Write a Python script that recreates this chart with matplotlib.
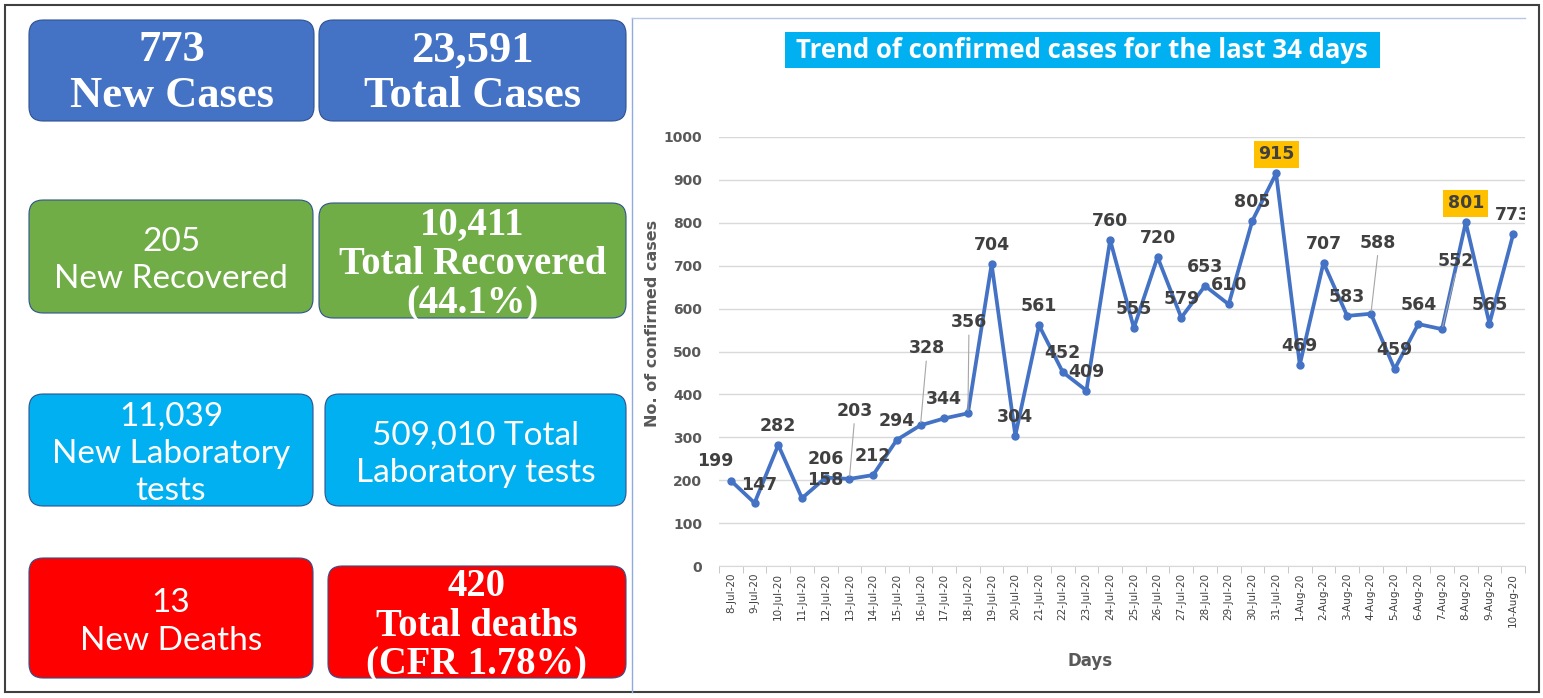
import matplotlib.pyplot as plt
from matplotlib.patches import FancyBboxPatch, Rectangle

# -----------------------------
# Data
# -----------------------------

days = ["8-Jul-20", "9-Jul-20", "10-Jul-20", "11-Jul-20", "12-Jul-20", "13-Jul-20",
        "14-Jul-20", "15-Jul-20", "16-Jul-20", "17-Jul-20", "18-Jul-20", "19-Jul-20",
        "20-Jul-20", "21-Jul-20", "22-Jul-20", "23-Jul-20", "24-Jul-20", "25-Jul-20",
        "26-Jul-20", "27-Jul-20", "28-Jul-20", "29-Jul-20", "30-Jul-20", "31-Jul-20",
        "1-Aug-20", "2-Aug-20", "3-Aug-20", "4-Aug-20", "5-Aug-20", "6-Aug-20",
        "7-Aug-20", "8-Aug-20", "9-Aug-20", "10-Aug-20"]
cases = [199, 147, 282, 158, 206, 203, 212, 294, 328, 344, 356, 704, 304, 561, 452,
         409, 760, 555, 720, 579, 653, 610, 805, 915, 469, 707, 583, 588, 459, 564,
         552, 801, 565, 773]
highlight = ["31-Jul-20", "8-Aug-20"]

box_texts = ["773\nNew Cases", "23,591\nTotal Cases",
             "205\nNew Recovered", "10,411\nTotal Recovered\n(44.1%)",
             "11,039\nNew Laboratory\ntests", "509,010 Total\nLaboratory tests",
             "13\nNew Deaths", "420\nTotal deaths\n(CFR 1.78%)"]

# -----------------------------
# Figure + pixel background layer
# -----------------------------

fig = plt.figure(figsize=(15.43, 6.98), dpi=100)
bg = fig.add_axes([0, 0, 1, 1])
bg.set_xlim(0, 1543)
bg.set_ylim(698, 0)
bg.axis("off")

bg.add_patch(Rectangle((5, 5), 1534, 687, fill=False, ec="#404040", lw=1.5))
bg.plot([632, 632], [18, 692], color="#8FAADC", lw=1)
bg.plot([632, 1525], [18, 18], color="#B4C7E7", lw=1)

# summary boxes: (x, y, w, h, colour, serif?)
boxes = [
    (29, 20, 285, 101, "#4472C4", True),
    (319, 20, 307, 101, "#4472C4", True),
    (29, 200, 284, 113, "#70AD47", False),
    (319, 203, 307, 115, "#70AD47", True),
    (29, 394, 284, 112, "#00B0F0", False),
    (325, 394, 301, 112, "#00B0F0", False),
    (29, 558, 284, 120, "#FF0000", False),
    (328, 566, 298, 112, "#FF0000", True),
]
for (x, y, w, h, col, serif), txt in zip(boxes, box_texts):
    bg.add_patch(FancyBboxPatch((x, y), w, h, boxstyle="round,pad=0,rounding_size=14",
                                fc=col, ec="#2F528F", lw=0.8))
    if serif:
        two = len(txt.split("\n")) == 2
        bg.text(x + w / 2, y + h / 2 + (2.5 if two else 4), txt, ha="center",
                va="center", color="white", fontsize=32 if two else 27.8,
                fontweight="bold", family="Liberation Serif",
                linespacing=1.17 if two else 1.08)
    else:
        bg.text(x + w / 2, y + h / 2 + 4, txt, ha="center", va="center", color="white",
                fontsize=24, family="Lato", linespacing=1.3)

# title
bg.add_patch(Rectangle((785, 32), 595, 36, fc="#00B0F0", ec="none"))
bg.text(1082, 50, "Trend of confirmed cases for the last 34 days", ha="center",
        va="center", color="white", fontsize=18.5, fontweight="bold", family="Open Sans")

# -----------------------------
# Line chart
# -----------------------------

ax = fig.add_axes([719 / 1543, 132 / 698, 806 / 1543, 429 / 698])
x = list(range(len(days)))
ax.plot(x, cases, color="#4472C4", lw=2.7, marker="o", ms=5, zorder=3)

ax.set_xlim(-0.5, len(days) - 0.5)
ax.set_ylim(0, 1000)
ax.set_yticks(range(0, 1001, 100))
ax.set_xticks(x)
ax.set_xticklabels(days, rotation=90, fontsize=7.5, color="#404040")
ax.set_xticks([i - 0.5 for i in range(len(days) + 1)], minor=True)
ax.tick_params(axis="x", which="major", length=0, pad=5)
ax.tick_params(axis="x", which="minor", length=5, color="#BFBFBF")
ax.tick_params(axis="y", length=0, pad=12, labelsize=10, labelcolor="#595959")
for lab in ax.get_yticklabels():
    lab.set_fontweight("bold")
ax.grid(axis="y", color="#D9D9D9", lw=1)
ax.set_axisbelow(True)
for s in ["top", "right", "left"]:
    ax.spines[s].set_visible(False)
ax.spines["bottom"].set_color("#D9D9D9")
ax.patch.set_alpha(0)

ax.set_ylabel("No. of confirmed cases", fontsize=11.5, fontweight="bold", color="#595959")
ax.yaxis.set_label_coords(-0.073, 0.566)
ax.set_xlabel("Days", fontsize=12, fontweight="bold", color="#595959")
ax.xaxis.set_label_coords(0.46, -0.2)

# label offsets in pixels (dx, dy); default sits just above the point
offsets = {1: (5, 18), 3: (23, 18), 0: (-16, 20),
           5: (5, 68), 8: (6, 77), 10: (1, 91), 27: (7, 71), 30: (14, 68)}
leaders = [5, 8, 10, 27, 30]

for i, v in enumerate(cases):
    dx, dy = offsets.get(i, (0, 19))
    bbox = None
    if days[i] in highlight:
        bbox = dict(boxstyle="square,pad=0.25", fc="#FFC000", ec="none")
    t = ax.annotate(str(v), (i, v), xytext=(dx, dy), textcoords="offset pixels",
                    ha="center", va="center", fontsize=12.5, fontweight="bold",
                    color="#404040", bbox=bbox, zorder=4, annotation_clip=False)
    if i == len(cases) - 1:
        # chart area ends here in the original, so the last label is cut off
        t.set_clip_path(Rectangle((0, 0), 1525, 698, transform=None))
    if i in leaders:
        ax.annotate("", (i, v), xytext=(dx, dy - 10), textcoords="offset pixels",
                    arrowprops=dict(arrowstyle="-", color="#A6A6A6", lw=0.8))

fig.savefig("out.png", dpi=100)
